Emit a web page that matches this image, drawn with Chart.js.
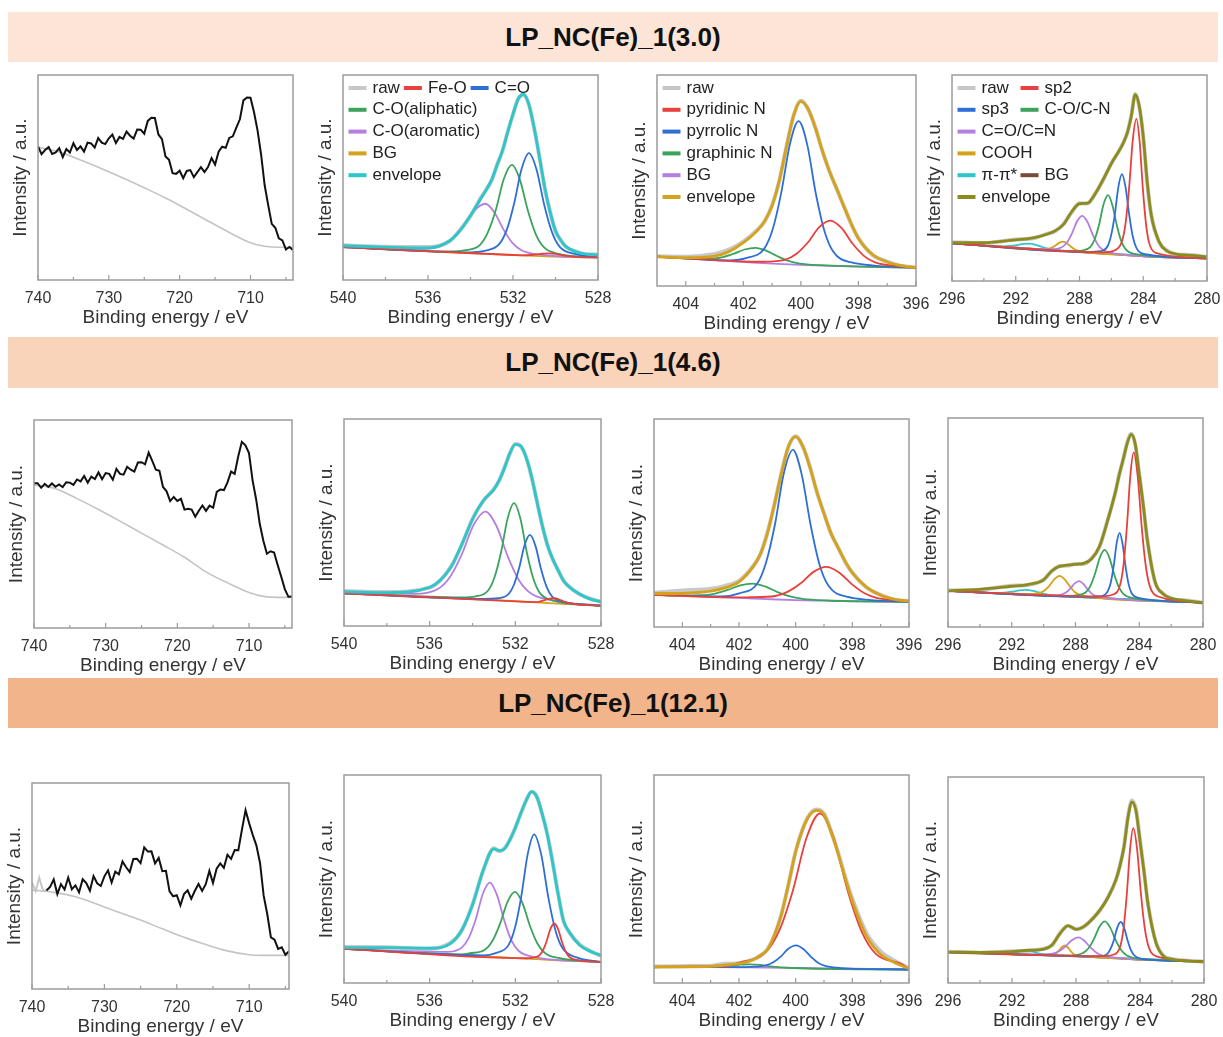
<!DOCTYPE html>
<html>
<head>
<meta charset="utf-8">
<title>XPS fits LP_NC(Fe)_1</title>
<script src="https://cdn.jsdelivr.net/npm/chart.js@4.4.0/dist/chart.umd.min.js"></script>
<style>
  html, body { margin: 0; padding: 0; background: #fff; overflow: hidden; }
  body { width: 1223px; height: 1037px; position: relative; font-family: "Liberation Sans", Arial, sans-serif; }
  .banner { position: absolute; left: 8px; width: 1210px; height: 50px; display: flex; align-items: center; justify-content: center; font-weight: bold; font-size: 26px; color: #111; }
  canvas { position: absolute; }
</style>
</head>
<body>
<div class="banner" style="top:12px;background:#fce5d7">LP_NC(Fe)_1(3.0)</div>
<div class="banner" style="top:337px;height:51px;background:#f9d3ba">LP_NC(Fe)_1(4.6)</div>
<div class="banner" style="top:678px;background:#f2b48b">LP_NC(Fe)_1(12.1)</div>
<script>
// ===== DATA (binding energy in eV, intensity in % of plot height) =====

// Fe 2p
const feX = [740,739.5,739,738.5,738,737.5,737,736.5,736,735.5,735,734.5,734,733.5,733,732.5,732,731.5,731,730.5,730,729.5,729,728.5,728,727.5,727,726.5,726,725.5,725,724.5,724,723.5,723,722.5,722,721.5,721,720.5,720,719.5,719,718.5,718,717.5,717,716.5,716,715.5,715,714.5,714,713.5,713,712.5,712,711.5,711,710.5,710,709.5,709,708.5,708,707.5,707,706.5,706,705.5,705,704.5,704];
const feRaw1 = [65.2,61.4,63.4,64.8,61.5,62.2,64.3,59.9,63.9,62.2, 66.7,63.4,65.2,62.6,67,66.6,64.6,69.2,67,66.3, 69.1,70.9,66.8,69.8,68.8,72.4,70.4,69,73.4,73.3, 71.4,77.6,79.1,79,71,68.7,60.3,58.6,52.1,51.8, 53.3,49.7,53.2,53.6,50.2,52.6,55,52.7,55.1,59.5, 56.3,62.6,65,64.5,69.3,70.1,74.3,78.4,87.6,89, 88.9,81.8,72.9,61.1,46.2,36.5,27.4,25.5,20.3,19.3, 14.9,16.1,14.6];
const feRaw2 = [69.6,69.6,67.4,69.3,67.8,69.5,67.9,69,67.7,70.1, 69.9,68.8,71.4,70.5,73.1,69.9,72.8,71.6,74.8,71.5, 74.5,74.1,71.3,76.5,74.1,73.7,77.5,76.1,75.2,79.6, 79.7,78.7,84.3,80.3,76.1,75.6,67.8,65.7,61,63, 61.1,62.1,56.9,57.3,56.9,53.5,56.4,58.9,56.3,58.8, 57.8,65.4,66.6,66.3,70,75.2,74.1,82.6,89.5,87.8, 84.1,71,61.8,50.1,42,35.7,36.9,36.3,30.3,24.6, 18.7,15,15.1];
const feRaw3 = [null,null,null,null,47.8,49.6,53.2,46.1,50.9,48.3, 54.1,48.4,50.3,46.9,53.3,51.4,47.7,54.8,51.3,50, 54.7,57.6,51.7,57,55.7,61.9,59.1,56.8,63.1,63.2, 61.1,68.7,66.7,66.8,61,63.6,57.2,57.4,47.4,45, 45.5,40.6,46.1,47.9,43.8,47.7,51,47.6,50.9,57.3, 51.5,58.4,61,58.8,65.2,63.2,67.5,67.4,77.4,86.8, 80.4,74.7,69.6,61.2,45.3,36.3,25.1,24,19.5,20.2, 16.6,18.3,null];
const feLeadX = [740,739.5,739,738.5,738];
const feLead3 = [51.7,47.5,54,48,47.8];
const feBgX = [740,737,734,731,728,725,722,719,716,713,710,708,706,704];
const feBg1 = [64.7,62.5,58.5,54.3,49.8,45,40,34.5,28.8,23.2,18.2,16.5,16,16];
const feBg2 = [68.8,67,62.2,57,51.4,45.6,39.9,34,27,21.7,17.1,15.2,14.7,14.7];
const feBg3 = [48,46.9,44.8,41.2,37.2,33.5,29.2,25.1,21.6,18.5,16.6,16.3,16.3,16.3];

// O 1s
const oGrid = [540,538,536,535,534.5,534,533.5,533,532.75,532.5,532.25,532,531.75,531.5,531.25,531,530.75,530.5,530.25,530,529.75,529.5,529,528.5,528];
const oBgX = [540,538,536,535,534,533,532,531,530,529,528];
const o1Env = [16.7,16,15.6,19,24,31.5,40,49,56,63,72,81,88.3,90.6,85.4,74,59.5,44.8,33,24,19.3,16.3,13.6,12.6,12.3];
const o1Raw = [16.9,16.2,16.1,18.8,24.3,31.2,40.3,48.7,56.2,62.8,72.3,80.7,88.6,90.3,85.6,73.7,59.8,44.5,33.2,23.8,19.5,16.1,13.8,12.4,12.5];
const o1Bg = [16,15,14,13.5,13,12.6,12.2,11.8,11.4,11.2,11];
const o1RedX = [540,532,531.5,530.9,530.6,530.3,530,529.7,529.1,528];
const o1RedY = [16,12.2,12,12.5,12.8,13,12.7,12.1,11.3,11];
const o1BlueX = [540,534,533.35,532.65,532.3,531.95,531.6,531.25,530.89,530.53,530.17,529.81,529.09,528];
const o1BlueY = [16,13.5,14.2,17.5,24.3,37.2,54,61.9,53.8,36.6,23.5,16.3,12.7,11];
const o1GreenX = [540,535,534.3,533.55,533.18,532.8,532.43,532.05,531.68,531.3,530.93,530.55,529.8,528];
const o1GreenY = [16,13.9,14.4,17.1,23.3,34.5,49.4,56.2,49.1,33.9,22.4,16,12.6,11];
const o1PurX = [540,536.6,535.5,534.95,534.4,533.85,533.3,532.88,532.45,532.03,531.6,530.75,528];
const o1PurY = [16,15,16.3,19.4,25.5,33.6,37.2,33.1,24.7,18.1,14.5,12.4,11];

const o2Env = [16.6,16.1,18.7,28.5,39.5,51.5,60.5,66,70.5,76.5,83.6,87.7,87,81.5,72.5,60.5,49,39,32.3,26.8,22,19,15.5,13,11.8];
const o2Raw = [16.9,16.4,18.5,28.8,39.2,51.8,60.3,66.2,70.3,76.8,83.4,87.9,86.8,81.7,72.3,60.8,48.8,39.2,32.1,27,21.8,19.2,15.3,13.2,11.6];
const o2Bg = [15.8,14.9,14,13.5,13,12.5,12,11.4,10.8,10.3,9.8];
const o2RedX = [540,531.5,531,530.7,530.45,530.2,529.95,529.7,529.2,528];
const o2RedY = [15.8,11.7,11.5,12.3,13.1,13.4,12.8,11.7,10.6,9.8];
const o2BlueX = [540,533.5,532.82,532.32,532.07,531.82,531.57,531.32,531.06,530.8,530.54,530.28,529.76,528];
const o2BlueY = [15.8,13.1,13.4,15.4,19.8,28.1,39,44,38.7,27.5,18.9,14.2,11.7,9.8];
const o2GreenX = [540,534.5,533.86,533.26,532.96,532.66,532.36,532.06,531.76,531.46,531.16,530.86,530.26,528];
const o2GreenY = [15.8,13.8,14.3,17.3,23.9,36,52,59.4,51.7,35.4,22.9,16,12.4,9.8];
const o2PurX = [540,536.7,535.6,535.05,534.5,533.95,533.4,532.88,532.35,531.83,531.3,530.25,528];
const o2PurY = [15.8,15.5,18,23.7,34.6,48.8,55.3,48.3,33.5,22.1,15.9,12.3,9.8];

const o3Env = [17,17,16.7,19.2,25.5,37.5,54.3,64.5,63.6,64.6,69,74.5,81.5,87.5,92,89.5,81.5,71,57.4,42.5,30,24.8,18.3,15.2,13.3];
const o3Raw = [17.3,17.2,16.5,19.5,25.2,37.8,54,64.8,63.4,64.9,68.8,74.8,81.2,87.8,91.8,89.7,81.2,71.3,57.6,42.8,29.8,24.7,18.5,15.4,13.1];
const o3Bg = [16.4,15.4,14.4,13.8,13.2,12.6,12,11.45,10.9,10.5,10.1];
const o3RedX = [540,531.5,531.26,530.9,530.72,530.54,530.36,530.18,530,529.82,529.64,529.46,529.1,528];
const o3RedY = [16.4,11.9,12.1,13.1,15.5,20.1,26,28.6,25.8,19.7,14.9,12.4,11,10.1];
const o3BlueX = [540,533.5,532.92,532.32,532.02,531.72,531.42,531.12,530.79,530.46,530.13,529.8,529.14,528];
const o3BlueY = [16.4,13.3,14.4,18.2,26.4,41.8,62.1,71.5,61.7,41.2,25.4,16.8,12.3,10.1];
const o3GreenX = [540,534.5,534.12,533.42,533.07,532.72,532.37,532.02,531.67,531.32,530.97,530.62,529.92,528];
const o3GreenY = [16.4,13.8,14.3,16,20.2,28.3,38.9,43.8,38.5,27.5,19,14.4,11.9,10.1];
const o3PurX = [540,535.14,534.49,534.17,533.84,533.52,533.19,532.86,532.52,532.19,531.85,531.18,528];
const o3PurY = [16.4,15,17.1,21.8,30.9,42.8,48.3,42.4,30.1,20.6,15.5,12.6,10.1];

// N 1s
const nGrid = [405,404,403,402.5,402,401.5,401.25,401,400.75,400.5,400.25,400,399.75,399.5,399.25,399,398.75,398.5,398.25,398,397.5,397,396.5,396];
const nBgX = [405,404,403,402,401,400,399,398,397,396];
const n1Env = [13.9,13.4,14.2,16.3,20.5,26.5,31,38,50,66,81,87.5,84,75,64,54,46,37.5,29.5,22.5,14.8,11.4,9.6,8.7];
const n1Raw = [14.1,13.9,15.2,17.2,21,26.8,30.8,38.3,49.8,66.2,80.8,87.8,83.8,75.3,63.8,54.2,45.8,37.7,29.3,22.7,14.6,11.6,9.5,8.8];
const n1Bg = [13.9,13,12.2,11.4,10.6,10,9.5,9.2,8.9,8.7];
const n1RedX = [405,402,401.32,400.54,400.15,399.76,399.37,398.98,398.59,398.2,397.81,397.42,396.64,396];
const n1RedY = [13.9,11.6,11.5,12.5,15.3,20.6,27.8,31,27.5,20,14.3,11.2,9.4,8.7];
const n1BlueX = [405,402.5,401.88,401.28,400.98,400.68,400.38,400.08,399.78,399.48,399.18,398.88,398.28,396];
const n1BlueY = [13.9,12.1,13.3,17.6,26.9,44.4,67.3,78.1,67,43.7,25.9,16.3,11.3,8.7];
const n1GreenX = [405,403.83,403.08,402.71,402.33,401.96,401.58,401.21,400.83,400.46,400.08,399.33,396];
const n1GreenY = [13.9,13.1,13,13.7,15.3,17.3,18.1,16.8,14.2,12,10.75,9.85,8.7];

const n2Env = [16.1,16.2,17.2,18.8,21.7,29,35,45,59,74,87,91.5,87,77,65,54.5,45,38,31.5,26,19.2,15.3,13.3,12.4];
const n2Raw = [16.5,17.5,18.4,19.8,22.2,29.3,34.8,45.2,58.8,74.3,86.8,91.7,86.8,77.2,64.8,54.7,44.8,38.2,31.3,26.2,19,15.5,13.1,12.5];
const n2Bg = [15.5,15,14.5,14,13.4,12.9,12.65,12.4,12.25,12.1];
const n2RedX = [405,402,401.62,400.72,400.27,399.82,399.37,398.92,398.47,398.02,397.57,397.12,396.22,396];
const n2RedY = [15.5,14.2,14.3,14.9,17,21,26.5,28.9,26.2,20.6,16.2,13.9,12.6,12.1];
const n2BlueX = [405,402.6,401.99,401.36,401.05,400.73,400.42,400.1,399.79,399.47,399.16,398.84,398.21,396];
const n2BlueY = [15.5,14.7,16.2,20.8,30.8,49.4,73.8,85.2,73.5,48.9,30.1,19.8,14.6,12.1];
const n2GreenX = [405,404.16,403.28,402.84,402.4,401.96,401.52,401.08,400.64,400.2,399.76,398.88,396];
const n2GreenY = [15.5,15.2,15.3,16.1,17.8,20,20.9,19.5,16.8,14.7,13.55,12.75,12.1];

const n3Env = [7.7,7.8,8,8.6,9.3,11.2,13.3,16,23,33,47.8,63,74,80.8,83,81,72.5,62.1,50.2,39.3,22.5,13.7,9.7,6.9];
const n3Raw = [7.9,8.1,8.3,9.2,9.5,11.4,13.1,16.2,22.8,33.3,47.5,63.3,74.2,81.2,83.4,81.3,73,62.6,51,40.5,24,15.2,10.6,7.2];
const n3Bg = [7.8,7.7,7.6,7.5,7.4,7.2,7.05,6.9,6.7,6.5];
const n3RedX = [405,402.5,402.02,401.06,400.58,400.1,399.62,399.14,398.65,398.16,397.67,397.18,396.2,396];
const n3RedY = [7.8,7.95,9.7,14.8,25.2,44.4,69.7,81.5,69.5,44.1,24.7,14.1,8.7,6.5];
const n3BlueX = [405,402,401.58,401.05,400.79,400.52,400.26,399.99,399.73,399.46,399.2,398.93,398.4,396];
const n3BlueY = [7.8,7.6,7.75,8.5,9.95,12.8,16.45,18.1,16.35,12.6,9.65,8.1,7.2,6.5];
const n3GreenX = [405,403.1,402.3,401.95,401.6,401.25,400.9,400.1,396];
const n3GreenY = [7.8,7.6,8.25,8.8,9,8.7,8,7.2,6.5];

// C 1s
const cGrid = [296,294,292,291,290,289.5,289,288.5,288,287.5,287,286.5,286,285.5,285.25,285,284.75,284.5,284.25,284,283.75,283.5,283,282.5,282,281,280];
const cBgX = [296,294,292,290,288,286,284,282,280];
const c1Env = [18.6,18.6,20,20.8,22.8,24.5,27.5,33.5,37.5,37.8,42.5,49.5,57,63.5,67,72,80,90.5,85,70,48,32,19,14.5,13.2,12.4,11.8];
const c1Raw = [18.8,18.4,20.2,20.6,23,24.3,27.7,33.3,37.7,37.6,42.7,49.3,57.2,63.3,67.2,71.8,80.3,90.8,84.7,70.3,47.7,32.3,18.8,14.7,13,12.6,11.6];
const c1Bg = [18.3,17.2,16.2,15.1,14,13,12,11.4,11];
const c1RedX = [296,286.5,285.78,285.33,285.1,284.88,284.66,284.43,284.23,284.03,283.83,283.63,283.23,280];
const c1RedY = [18.3,13.9,14.9,19.4,28.6,45.8,68.2,78.7,68,45.3,27.9,18.5,13.7,11];
const c1BlueX = [296,287.5,286.68,286.23,286.01,285.78,285.56,285.33,285.11,284.88,284.66,284.43,283.98,280];
const c1BlueY = [18.3,14.1,14.5,17,22.4,32.5,45.7,51.85,45.45,32.05,21.7,16.1,13.2,11];
const c1GreenX = [296,288.5,287.86,287.31,287.04,286.76,286.49,286.21,285.94,285.66,285.39,285.11,284.56,280];
const c1GreenY = [18.3,14.5,14.8,16.6,20.4,27.7,37.25,41.7,36.95,27.1,19.6,15.45,13.2,11];
const c1PurX = [296,290.5,289.77,289.12,288.8,288.47,288.15,287.82,287.5,287.17,286.85,286.52,285.87,280];
const c1PurY = [18.3,15.55,15.45,16.4,18.6,23.15,29,31.6,28.65,22.5,17.65,15.05,13.45,11];
const c1GoldX = [296,291,290.53,290.03,289.78,289.53,289.28,289.03,288.78,288.53,288.28,288.03,287.53,280];
const c1GoldY = [18.3,15.7,15.5,15.6,16.1,17.15,18.5,19.1,18.25,16.6,15.25,14.5,13.85,11];
const c1CyanX = [296,293.5,292.73,292.33,291.93,291.53,291.13,290.73,290.33,289.93,289.53,288.73,280];
const c1CyanY = [18.3,17,16.8,17,17.4,18,18.15,17.5,16.5,15.65,15.05,14.5,11];

const c2Env = [17.3,18,19.5,20.3,22.5,26.8,29,29.6,30,30.4,32.5,38.5,50.5,64.5,73,80.5,88,92.2,87.5,73,58.5,42,21.5,15.8,13.8,12.5,11.7];
const c2Raw = [17.5,17.8,19.7,20.1,22.7,26.6,29.2,29.4,30.2,30.2,32.7,38.3,50.7,64.3,73.2,80.3,88.3,92.5,87.3,73.3,58.3,42.3,21.3,16,13.6,12.7,11.5];
const c2Bg = [17.3,16.6,15.9,15.2,14.4,13.7,13,12.3,11.7];
const c2RedX = [296,286.5,285.61,285.19,284.98,284.77,284.56,284.35,284.1,283.85,283.6,283.35,282.85,280];
const c2RedY = [17.3,14.6,15.65,20.4,30.25,48.55,72.4,83.6,72.25,48.25,29.75,19.8,14.7,11.7];
const c2BlueX = [296,287.2,286.34,285.99,285.79,285.6,285.42,285.23,285.05,284.86,284.68,284.49,284.12,280];
const c2BlueY = [17.3,14.4,14.8,16.9,21.2,29.35,40,45,39.85,29.1,20.85,16.35,14.05,11.7];
const c2GreenX = [296,288.6,287.97,287.37,287.07,286.77,286.47,286.17,285.87,285.57,285.27,284.97,284.37,280];
const c2GreenY = [17.3,14.8,15.1,16.5,19.6,25.6,33.3,36.9,33.1,25.15,18.95,15.65,13.85,11.7];
const c2PurX = [296,290,289.43,288.88,288.6,288.33,288.05,287.78,287.51,287.23,286.96,286.68,286.13,280];
const c2PurY = [17.3,15.2,15.2,15.55,16.45,18.35,20.85,21.95,20.65,17.95,15.85,14.75,13.95,11.7];
const c2GoldX = [296,292,290.88,290.25,289.94,289.62,289.31,288.99,288.68,288.36,288.05,287.73,287.1,280];
const c2GoldY = [17.3,15.9,15.75,16.3,17.45,19.9,23,24.5,22.8,19.45,16.75,15.35,14.35,11.7];
const c2CyanX = [296,293.8,292.88,292.43,291.98,291.53,291.08,290.63,290.18,289.73,289.28,288.38,280];
const c2CyanY = [17.3,16.5,16.25,16.45,16.9,17.55,17.8,17.25,16.25,15.5,14.95,14.5,11.7];

const c3Env = [15,14.9,15.2,15.9,16.5,18.5,24,27.9,26,27.5,30.8,35.5,41.5,50.3,57,66,80.3,87.8,83.5,69,54,38.2,19.5,12.8,11.5,10.6,10.3];
const c3Raw = [15.2,14.7,15.4,15.7,16.7,18.3,24.2,27.7,26.2,27.3,31,35.3,41.7,50.1,57.2,66.3,80.8,88.6,84.2,69.5,54.3,38.5,19.8,13.1,11.7,10.8,10.4];
const c3Bg = [15,14.5,14,13.5,12.95,12.2,11.3,10.8,10.5];
const c3RedX = [296,286.5,285.62,285.22,285.02,284.82,284.62,284.42,284.18,283.94,283.7,283.46,282.98,280];
const c3RedY = [15,13,13.85,18.2,27,43.55,65.05,75.2,64.9,43.2,26.5,17.55,12.95,10.5];
const c3BlueX = [296,287.4,286.49,286.06,285.85,285.63,285.42,285.2,284.99,284.77,284.56,284.34,283.91,280];
const c3BlueY = [15,12.95,12.9,14,16.4,20.9,26.9,29.6,26.75,20.55,15.85,13.25,11.75,10.5];
const c3GreenX = [296,289,288.24,287.56,287.22,286.88,286.54,286.2,285.86,285.52,285.18,284.84,284.16,280];
const c3GreenY = [15,13.4,13.4,14.55,16.85,21.3,27.2,29.9,26.9,20.8,16.05,13.5,11.9,10.5];
const c3PurX = [296,291.3,290.26,289.46,289.06,288.66,288.26,287.86,287.48,287.1,286.72,286.34,285.58,280];
const c3PurY = [15,13.9,13.85,14.2,15.4,17.7,20.75,22.1,20.5,17.25,14.7,13.25,12.35,10.5];
const c3GoldX = [296,290.5,289.78,289.42,289.24,289.06,288.88,288.7,288.52,288.34,288.16,287.98,287.62,280];
const c3GoldY = [15,13.6,13.6,13.8,14.45,15.8,17.45,18.2,17.35,15.6,14.15,13.4,13,10.5];
const c3CyanX = [296,293.5,292.5,292.15,291.8,291.45,291.1,290.75,290.4,290.05,289.7,289,280];
const c3CyanY = [15,14.45,14.2,14.5,14.9,15.45,15.7,15.3,14.55,14,13.5,13.25,10.5];

// axis ticks
const feMajor = [740,730,720,710], feMinor = [735,725,715,705];
const oMajor = [540,536,532,528], oMinor = [538,534,530];
const nMajor = [404,402,400,398,396], nMinor = [403,401,399,397];
const cMajor = [296,292,288,284,280], cMinor = [294,290,286,282];

// ===== STYLE =====
const FONT = '"Liberation Sans", Arial, sans-serif';
const COL = {
    raw: '#c8c8c8', red: '#e8403c', blue: '#2e6fd6', green: '#3ba35c', purple: '#b57fe2',
    gold: '#d5a21b', cyan: '#2dc6c9', brown: '#7a4a3c', olive: '#8c8c1d', black: '#111111', bgGray: '#c4c4c4'
};
Chart.defaults.font.family = FONT;

function pts(xs, ys) {
    return xs.map((x, i) => ({ x: x, y: ys[i] }));
}

function line(label, color, xs, ys, width, order, extra) {
    return Object.assign({
        label: label, data: pts(xs, ys), borderColor: color, backgroundColor: color,
        borderWidth: width, pointRadius: 0, fill: false, order: order,
        cubicInterpolationMode: 'monotone', spanGaps: false
    }, extra || {});
}

function feSets(raw, bg, lead) {
    const sets = [
        line('raw', COL.black, feX, raw, 2, 0, { cubicInterpolationMode: 'default', tension: 0 }),
        line('BG', COL.bgGray, feBgX, bg, 1.6, 1)
    ];
    if (lead) sets.push(line('raw', COL.raw, feLeadX, lead, 2, 1, { cubicInterpolationMode: 'default', tension: 0 }));
    return sets;
}

function oSets(raw, env, bg, red, blue, green, pur) {
    return [
        line('raw', COL.raw, oGrid, raw, 4, 5),
        line('Fe-O', COL.red, red[0], red[1], 1.8, 2),
        line('C=O', COL.blue, blue[0], blue[1], 1.8, 2),
        line('C-O(aliphatic)', COL.green, green[0], green[1], 1.8, 2),
        line('C-O(aromatic)', COL.purple, pur[0], pur[1], 1.8, 2),
        line('BG', COL.gold, oBgX, bg, 1.8, 3),
        line('envelope', COL.cyan, oGrid, env, 2.8, 0)
    ];
}

function nSets(raw, env, bg, red, blue, green) {
    return [
        line('raw', COL.raw, nGrid, raw, 4, 5),
        line('pyridinic N', COL.red, red[0], red[1], 1.8, 2),
        line('pyrrolic N', COL.blue, blue[0], blue[1], 1.8, 2),
        line('graphinic N', COL.green, green[0], green[1], 1.8, 2),
        line('BG', COL.purple, nBgX, bg, 1.8, 3),
        line('envelope', COL.gold, nGrid, env, 2.8, 0)
    ];
}

function cSets(raw, env, bg, red, blue, green, pur, gold, cyan) {
    return [
        line('raw', COL.raw, cGrid, raw, 4, 5),
        line('sp2', COL.red, red[0], red[1], 1.8, 2),
        line('sp3', COL.blue, blue[0], blue[1], 1.8, 2),
        line('C-O/C-N', COL.green, green[0], green[1], 1.8, 2),
        line('C=O/C=N', COL.purple, pur[0], pur[1], 1.8, 2),
        line('COOH', COL.gold, gold[0], gold[1], 1.8, 2),
        line('\u03c0-\u03c0*', COL.cyan, cyan[0], cyan[1], 1.8, 2),
        line('BG', COL.brown, cBgX, bg, 1.8, 3),
        line('envelope', COL.olive, cGrid, env, 2.8, 0)
    ];
}

const oLegend = { rows: [[0, 1, 2], [3], [4], [5], [6]] };
const nLegend = { rows: [[0], [1], [2], [3], [4], [5]] };
const cLegend = { rows: [[0, 1], [2, 3], [4], [5], [6, 7], [8]], colWidth: 63 };

const XT = 'Binding energy / eV';
const YT = 'Intensity / a.u.';

// frame = [left, top, right, bottom] of the plot box in page pixels
const panels = [
    { frame: [38, 75, 293, 280], xmin: 704, xmax: 740, major: feMajor, minor: feMinor, xt: XT, yt: YT, sets: feSets(feRaw1, feBg1) },
    { frame: [343, 75, 598, 280], xmin: 528, xmax: 540, major: oMajor, minor: oMinor, xt: XT, yt: YT, legend: oLegend,
      sets: oSets(o1Raw, o1Env, o1Bg, [o1RedX, o1RedY], [o1BlueX, o1BlueY], [o1GreenX, o1GreenY], [o1PurX, o1PurY]) },
    { frame: [657, 75, 916, 286], xmin: 396, xmax: 405, major: nMajor, minor: nMinor, xt: 'Binding erengy / eV', yt: YT, legend: nLegend,
      sets: nSets(n1Raw, n1Env, n1Bg, [n1RedX, n1RedY], [n1BlueX, n1BlueY], [n1GreenX, n1GreenY]) },
    { frame: [952, 75, 1207, 281], xmin: 280, xmax: 296, major: cMajor, minor: cMinor, xt: XT, yt: YT, legend: cLegend,
      sets: cSets(c1Raw, c1Env, c1Bg, [c1RedX, c1RedY], [c1BlueX, c1BlueY], [c1GreenX, c1GreenY], [c1PurX, c1PurY], [c1GoldX, c1GoldY], [c1CyanX, c1CyanY]) },

    { frame: [34, 420, 292, 628], xmin: 704, xmax: 740, major: feMajor, minor: feMinor, xt: XT, yt: YT, sets: feSets(feRaw2, feBg2) },
    { frame: [344, 419, 601, 626], xmin: 528, xmax: 540, major: oMajor, minor: oMinor, xt: XT, yt: YT,
      sets: oSets(o2Raw, o2Env, o2Bg, [o2RedX, o2RedY], [o2BlueX, o2BlueY], [o2GreenX, o2GreenY], [o2PurX, o2PurY]) },
    { frame: [654, 419, 909, 627], xmin: 396, xmax: 405, major: nMajor, minor: nMinor, xt: XT, yt: YT,
      sets: nSets(n2Raw, n2Env, n2Bg, [n2RedX, n2RedY], [n2BlueX, n2BlueY], [n2GreenX, n2GreenY]) },
    { frame: [948, 418, 1203, 627], xmin: 280, xmax: 296, major: cMajor, minor: cMinor, xt: XT, yt: 'Intensity a.u.',
      sets: cSets(c2Raw, c2Env, c2Bg, [c2RedX, c2RedY], [c2BlueX, c2BlueY], [c2GreenX, c2GreenY], [c2PurX, c2PurY], [c2GoldX, c2GoldY], [c2CyanX, c2CyanY]) },

    { frame: [32, 783, 289, 989], xmin: 704.5, xmax: 740, major: feMajor, minor: feMinor, xt: XT, yt: YT, sets: feSets(feRaw3, feBg3, feLead3) },
    { frame: [344, 775, 601, 983], xmin: 528, xmax: 540, major: oMajor, minor: oMinor, xt: XT, yt: YT,
      sets: oSets(o3Raw, o3Env, o3Bg, [o3RedX, o3RedY], [o3BlueX, o3BlueY], [o3GreenX, o3GreenY], [o3PurX, o3PurY]) },
    { frame: [654, 775, 909, 983], xmin: 396, xmax: 405, major: nMajor, minor: nMinor, xt: XT, yt: YT,
      sets: nSets(n3Raw, n3Env, n3Bg, [n3RedX, n3RedY], [n3BlueX, n3BlueY], [n3GreenX, n3GreenY]) },
    { frame: [948, 777, 1204, 983], xmin: 280, xmax: 296, major: cMajor, minor: cMinor, xt: XT, yt: YT,
      sets: cSets(c3Raw, c3Env, c3Bg, [c3RedX, c3RedY], [c3BlueX, c3BlueY], [c3GreenX, c3GreenY], [c3PurX, c3PurY], [c3GoldX, c3GoldY], [c3CyanX, c3CyanY]) }
];

// layout constants (px)
const Y_AXIS_W = 34;   // space left of the box for the y title
const X_AXIS_H = 52;   // space under the box for tick labels + title
const PAD_TOP = 6;
const PAD_RIGHT = 26;  // room for the last tick label (+ tick padding) so the box keeps its width

// ===== PLUGINS =====
// grey box round the plot area plus inward tick marks on the energy axis
const boxTicks = {
    id: 'boxTicks',
    afterDraw(chart, args, opts) {
        const { ctx, chartArea: a } = chart;
        const xs = chart.scales.x;
        ctx.save();
        ctx.strokeStyle = '#9c9c9c';
        ctx.lineWidth = 1.5;
        ctx.strokeRect(a.left, a.top, a.right - a.left, a.bottom - a.top);
        ctx.lineWidth = 1.2;
        ctx.beginPath();
        (opts.major || []).forEach(v => {
            const px = xs.getPixelForValue(v);
            ctx.moveTo(px, a.bottom); ctx.lineTo(px, a.bottom - 5);
        });
        (opts.minor || []).forEach(v => {
            const px = xs.getPixelForValue(v);
            ctx.moveTo(px, a.bottom); ctx.lineTo(px, a.bottom - 3);
        });
        ctx.stroke();
        ctx.restore();
    }
};

// legend drawn inside the plot, top-left, rows as in the original figure
const insideLegend = {
    id: 'insideLegend',
    afterDraw(chart, args, opts) {
        if (!opts.rows) return;
        const { ctx, chartArea: a } = chart;
        ctx.save();
        ctx.font = '17px ' + FONT;
        ctx.textBaseline = 'middle';
        opts.rows.forEach((row, r) => {
            const y = a.top + 13 + r * 21.8;
            let x = a.left + 5.5;
            row.forEach((idx, c) => {
                const ds = chart.data.datasets[idx];
                if (opts.colWidth) x = a.left + 5.5 + c * opts.colWidth;
                ctx.strokeStyle = ds.borderColor;
                ctx.lineWidth = 4;
                ctx.beginPath();
                ctx.moveTo(x, y); ctx.lineTo(x + 18, y);
                ctx.stroke();
                ctx.fillStyle = '#222';
                ctx.fillText(ds.label, x + 24, y);
                x += 24 + ctx.measureText(ds.label).width + 4;
            });
        });
        ctx.restore();
    }
};

// ===== BUILD =====
panels.forEach(p => {
    const [L, T, R, B] = p.frame;
    const cv = document.createElement('canvas');
    const w = R - L + Y_AXIS_W + PAD_RIGHT;
    const h = B - T + PAD_TOP + X_AXIS_H;
    cv.width = w; cv.height = h;
    cv.style.left = (L - Y_AXIS_W) + 'px';
    cv.style.top = (T - PAD_TOP) + 'px';
    cv.style.width = w + 'px';
    cv.style.height = h + 'px';
    document.body.appendChild(cv);

    new Chart(cv, {
        type: 'line',
        data: { datasets: p.sets },
        plugins: [boxTicks, insideLegend],
        options: {
            responsive: false,
            animation: false,
            events: [],
            layout: { padding: { top: PAD_TOP, right: PAD_RIGHT, left: 0, bottom: 0 } },
            plugins: {
                legend: { display: false },
                tooltip: { enabled: false },
                boxTicks: { major: p.major, minor: p.minor },
                insideLegend: p.legend || {}
            },
            scales: {
                x: {
                    type: 'linear', min: p.xmin, max: p.xmax, reverse: true,
                    grid: { display: false, drawTicks: false }, border: { display: false },
                    afterBuildTicks: s => { s.ticks = p.major.map(v => ({ value: v })); },
                    afterFit: s => { s.height = X_AXIS_H; },
                    ticks: { padding: 9, color: '#333', font: { size: 16 }, autoSkip: false, maxRotation: 0, callback: v => String(v) },
                    title: { display: true, text: p.xt, color: '#333', font: { size: 19 }, padding: { top: 0, bottom: 2.4 } }
                },
                y: {
                    min: 0, max: 100,
                    grid: { display: false, drawTicks: false }, border: { display: false },
                    ticks: { display: false },
                    afterFit: s => { s.width = Y_AXIS_W; },
                    title: { display: true, text: p.yt, color: '#333', font: { size: 19 }, padding: { top: 5.6, bottom: 0 } }
                }
            }
        }
    });
});
</script>
</body>
</html>
